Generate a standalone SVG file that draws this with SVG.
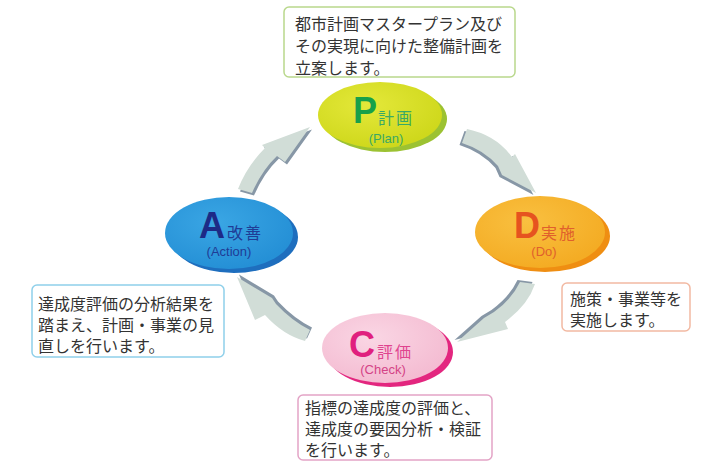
<svg xmlns="http://www.w3.org/2000/svg" width="710" height="464" viewBox="0 0 710 464">
<style>
.box{fill:#ffffff;stroke-width:1.5}
.jp{font-family:"Noto Sans CJK JP","Noto Sans",sans-serif;font-size:16px;fill:#333333}
.big{font-family:"Liberation Sans",Arial,sans-serif;font-weight:bold;font-size:36px}
.kan{font-family:"Noto Sans CJK JP",sans-serif;font-size:16px;letter-spacing:2px}
.par{font-family:"Liberation Sans",Arial,sans-serif;font-size:13px;text-anchor:middle}
.arr{fill:#d1ddd7}
.arrs{fill:#8797a6}
</style>
<defs>
<radialGradient id="gP" cx="40%" cy="35%" r="65%"><stop offset="0" stop-color="#e4e83a"/><stop offset="1" stop-color="#cfd81c"/></radialGradient>
<radialGradient id="gD" cx="40%" cy="35%" r="65%"><stop offset="0" stop-color="#f9c040"/><stop offset="1" stop-color="#f4ac24"/></radialGradient>
<radialGradient id="gC" cx="40%" cy="35%" r="65%"><stop offset="0" stop-color="#fad6e4"/><stop offset="1" stop-color="#f4bcd2"/></radialGradient>
<radialGradient id="gA" cx="40%" cy="35%" r="65%"><stop offset="0" stop-color="#3aa6e4"/><stop offset="1" stop-color="#2590d6"/></radialGradient>
</defs>

<g id="connectors">
  <g id="arrow-A-P">
    <path class="arrs" transform="translate(2,2.5)" d="M238,189 Q247,166 265,148 L262,145 L310,127 L285,162 L277,156 Q262,170 252,193 Z"/>
    <path class="arr" d="M238,189 Q247,166 265,148 L262,145 L310,127 L285,162 L277,156 Q262,170 252,193 Z"/>
  </g>
  <g id="arrow-P-D">
    <path class="arrs" transform="translate(-2.5,2)" d="M467,129 Q496,135 512,157 L515,154 L536,193 L502,175 L498,166 Q484,150 462,143 Z"/>
    <path class="arr" d="M467,129 Q496,135 512,157 L515,154 L536,193 L502,175 L498,166 Q484,150 462,143 Z"/>
  </g>
  <g id="arrow-D-C">
    <path class="arrs" transform="translate(-2.5,-2)" d="M520,282 Q512,299 494,312 L484,318 L457,342 L508,329 L505,322 Q528,305 535,284 Z"/>
    <path class="arr" d="M520,282 Q512,299 494,312 L484,318 L457,342 L508,329 L505,322 Q528,305 535,284 Z"/>
  </g>
  <g id="arrow-C-A">
    <path class="arrs" transform="translate(2,-2.5)" d="M310,330 Q292,321 276,304 L272,298 L237,277 L255,320 L265,315 Q283,335 305,341 Z"/>
    <path class="arr" d="M310,330 Q292,321 276,304 L272,298 L237,277 L255,320 L265,315 Q283,335 305,341 Z"/>
  </g>
</g>

<g id="node-plan-note">
  <rect class="box" x="284" y="7" width="231" height="70" rx="5" stroke="#b9d88c"/>
  <text class="jp" x="295" y="30" font-size="16.2">都市計画マスタープラン及び</text>
  <text class="jp" x="295" y="52" font-size="16.2">その実現に向けた整備計画を</text>
  <text class="jp" x="295" y="74" font-size="16.2">立案します。</text>
</g>

<g id="node-P">
  <ellipse cx="385" cy="119" rx="62" ry="33" fill="#9cc232"/>
  <ellipse cx="380" cy="115" rx="62" ry="33" fill="url(#gP)"/>
  <text class="big" x="353" y="123" fill="#17a04a">P</text>
  <text class="kan" x="378" y="124" fill="#3aa866">計画</text>
  <text class="par" x="386" y="143" fill="#3aa866">(Plan)</text>
</g>

<g id="node-D">
  <ellipse cx="545" cy="236" rx="65" ry="36" fill="#ef8e12"/>
  <ellipse cx="540" cy="232" rx="65" ry="36" fill="url(#gD)"/>
  <text class="big" x="514" y="238" fill="#e6531f">D</text>
  <text class="kan" x="541" y="239" fill="#e0602c">実施</text>
  <text class="par" x="544" y="256" fill="#e0602c">(Do)</text>
</g>

<g id="node-D-note">
  <rect class="box" x="562" y="283" width="128" height="48" rx="5" stroke="#f2b9a2"/>
  <text class="jp" x="570" y="305">施策・事業等を</text>
  <text class="jp" x="570" y="326">実施します。</text>
</g>

<g id="node-C">
  <ellipse cx="390" cy="352" rx="63" ry="35" fill="#e3267f"/>
  <ellipse cx="385" cy="348" rx="63" ry="35" fill="url(#gC)"/>
  <text class="big" x="349" y="357" fill="#e0207e">C</text>
  <text class="kan" x="377" y="358" fill="#e0448f">評価</text>
  <text class="par" x="383" y="374" fill="#d44386">(Check)</text>
</g>

<g id="node-C-note">
  <rect class="box" x="298" y="395" width="194" height="65" rx="5" stroke="#e3a4c6"/>
  <text class="jp" x="305" y="414">指標の達成度の評価と、</text>
  <text class="jp" x="305" y="435">達成度の要因分析・検証</text>
  <text class="jp" x="305" y="456">を行います。</text>
</g>

<g id="node-A">
  <ellipse cx="234" cy="237" rx="64" ry="36" fill="#1e6ebe"/>
  <ellipse cx="229" cy="233" rx="64" ry="36" fill="url(#gA)"/>
  <text class="big" x="199" y="238" fill="#1d2a86">A</text>
  <text class="kan" x="227" y="239" fill="#1f3c96">改善</text>
  <text class="par" x="229" y="256" fill="#1f3c96">(Action)</text>
</g>

<g id="node-A-note">
  <rect class="box" x="32" y="285" width="192" height="72" rx="5" stroke="#8fd0ea"/>
  <text class="jp" x="38" y="310">達成度評価の分析結果を</text>
  <text class="jp" x="38" y="331">踏まえ、計画・事業の見</text>
  <text class="jp" x="38" y="352">直しを行います。</text>
</g>
</svg>
